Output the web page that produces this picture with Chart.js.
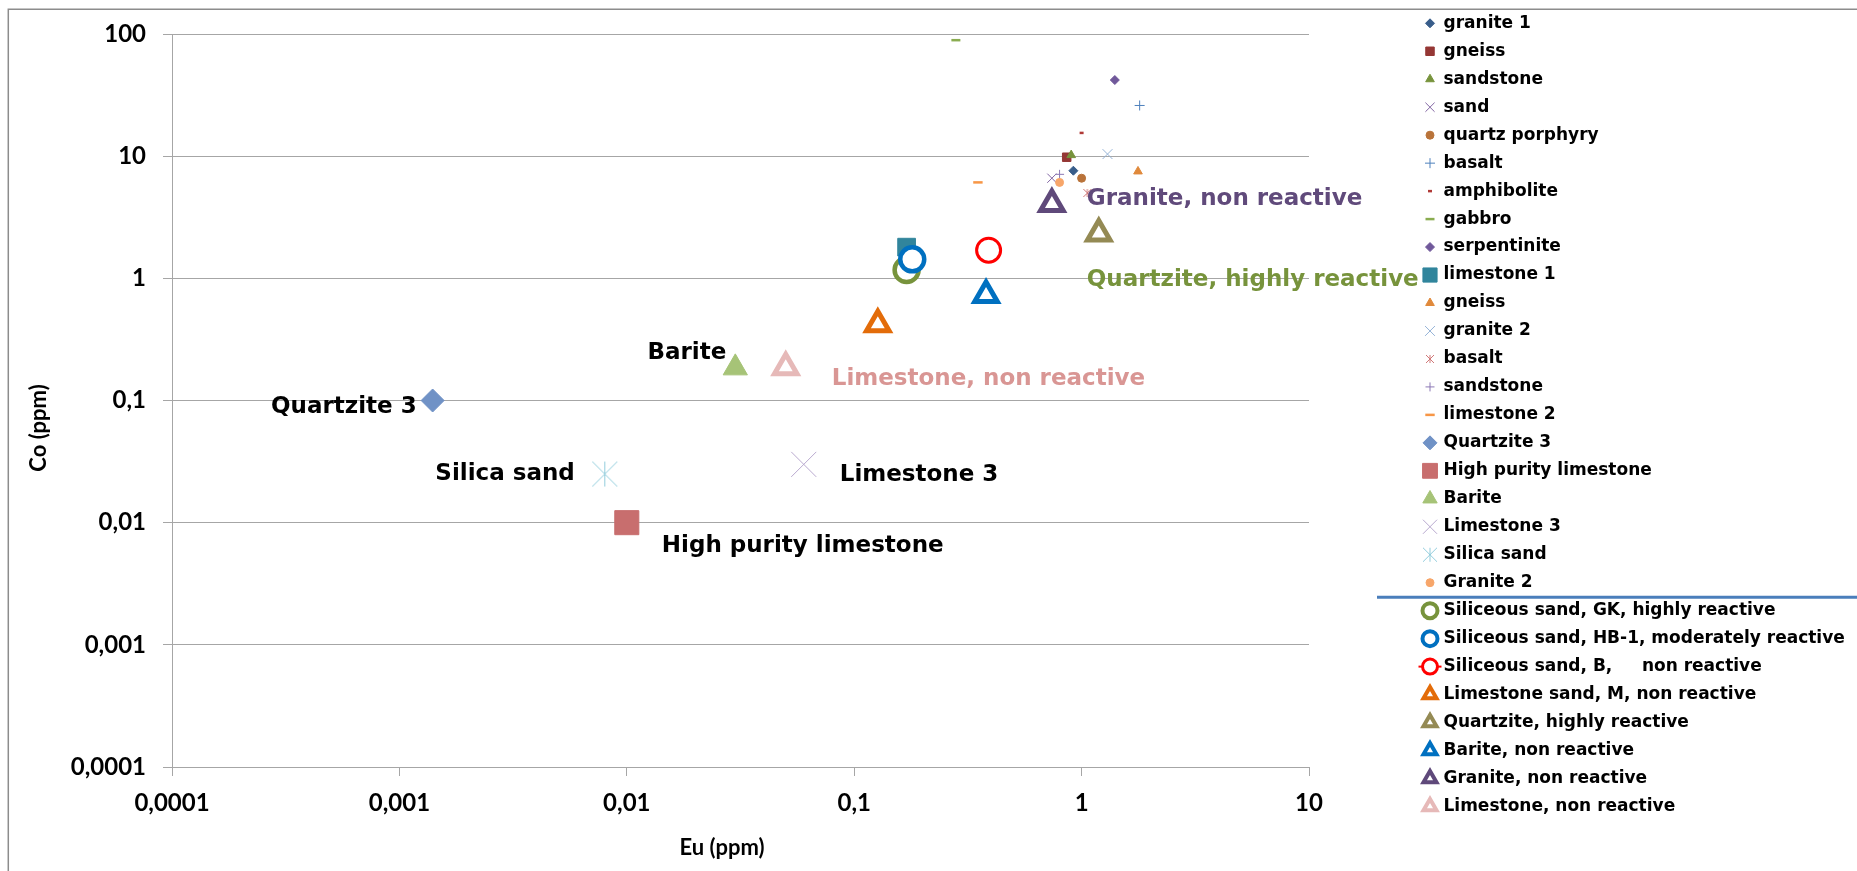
<!DOCTYPE html>
<html>
<head>
<meta charset="utf-8">
<script src="https://cdn.jsdelivr.net/npm/chart.js"></script>
<style>
  html, body { margin: 0; padding: 0; background: #ffffff; }
  canvas { display: block; }
</style>
</head>
<body>
<canvas id="chart" width="1857" height="871"></canvas>
<script>
// one point per series, Eu on x and Co on y (ppm)
const seriesNames = [
  "granite 1", "gneiss", "sandstone", "sand", "quartz porphyry", "basalt",
  "amphibolite", "gabbro", "serpentinite", "limestone 1", "gneiss",
  "granite 2", "basalt", "sandstone", "limestone 2",
  "Quartzite 3", "High purity limestone", "Barite", "Limestone 3", "Silica sand", "Granite 2",
  "Siliceous sand, GK, highly reactive",
  "Siliceous sand, HB-1, moderately reactive",
  "Siliceous sand, B,     non reactive",
  "Limestone sand, M, non reactive",
  "Quartzite, highly reactive",
  "Barite, non reactive",
  "Granite, non reactive",
  "Limestone, non reactive"
];
const euValues = [
  0.92, 0.86, 0.9, 0.74, 1.0, 1.8,
  1.0, 0.28, 1.4, 0.17, 1.77,
  1.3, 1.06, 0.8, 0.35,
  0.0014, 0.01, 0.03, 0.06, 0.008, 0.8,
  0.17, 0.18, 0.39, 0.127, 1.19, 0.38, 0.74, 0.05
];
const coValues = [
  7.6, 9.8, 10.2, 6.6, 6.6, 26,
  15.5, 89, 42, 1.8, 7.5,
  10.4, 5.0, 7.1, 6.1,
  0.1, 0.01, 0.185, 0.03, 0.025, 6.1,
  1.17, 1.43, 1.7, 0.42, 2.33, 0.73, 4.05, 0.187
];

const xTicks = [0.0001, 0.001, 0.01, 0.1, 1, 10];
const xTickLabels = ["0,0001", "0,001", "0,01", "0,1", "1", "10"];
const yTicks = [0.0001, 0.001, 0.01, 0.1, 1, 10, 100];
const yTickLabels = ["0,0001", "0,001", "0,01", "0,1", "1", "10", "100"];
const xTitle = "Eu (ppm)";
const yTitle = "Co (ppm)";

// labels written next to some points
const labelSeries = [15, 19, 16, 17, 18, 28, 27, 25];
const labelTexts = ["Quartzite 3", "Silica sand", "High purity limestone", "Barite",
  "Limestone 3", "Limestone, non reactive", "Granite, non reactive", "Quartzite, highly reactive"];

// ---- styles ----
const WHITE = "#ffffff";
const markers = [
  { style: "rectRot", r: 4.5, color: "#385d8a" },
  { style: "rect", r: 6, color: "#953735" },
  { style: "triangle", r: 5, color: "#77933c" },
  { style: "crossRot", r: 6.5, color: "#8064a2", bw: 1 },
  { style: "circle", r: 4, color: "#b9733a" },
  { style: "cross", r: 5, color: "#4f81bd", bw: 1 },
  { style: "line", r: 2, color: "#b03a37", bw: 2.5 },
  { style: "line", r: 4.5, color: "#8aac50", bw: 2.5 },
  { style: "rectRot", r: 4.5, color: "#70589a" },
  { style: "rect", r: 12.5, color: "#31859c", legendR: 10 },
  { style: "triangle", r: 5, color: "#e0893b" },
  { style: "crossRot", r: 7, color: "#95b3d7", bw: 1 },
  { style: "asterisk", r: 4, color: "#d07878", bw: 1 },
  { style: "cross", r: 4.5, color: "#8c79b5", bw: 1 },
  { style: "line", r: 4.7, color: "#f79646", bw: 2.5 },
  { style: "rectRot", r: 11.5, color: "#7092c6", legendR: 7 },
  { style: "rect", r: 17, color: "#c86e6e", legendR: 10.5 },
  { style: "triangle", r: 14, color: "#a6c377", legendR: 8.3 },
  { style: "crossRot", r: 17.7, color: "#b8a9cf", bw: 1, legendR: 10 },
  { style: "asterisk", r: 12.5, color: "#92cddc", bw: 1, legendR: 7 },
  { style: "circle", r: 4, color: "#f7a66a" },
  { style: "circle", r: 12, color: "#77933c", bw: 4.5, fill: WHITE, legendR: 7.5, legendBw: 4 },
  { style: "circle", r: 12, color: "#0070c0", bw: 4.5, fill: WHITE, legendR: 7.5, legendBw: 4 },
  { style: "circle", r: 12, color: "#ff0000", bw: 3, fill: WHITE, legendR: 7.5, legendBw: 3, legendLine: true },
  { style: "triangle", r: 13, color: "#e36c09", bw: 5, fill: WHITE, legendR: 7.5, legendBw: 4 },
  { style: "triangle", r: 13, color: "#948a54", bw: 5, fill: WHITE, legendR: 7.5, legendBw: 4 },
  { style: "triangle", r: 13, color: "#0070c0", bw: 5, fill: WHITE, legendR: 7.5, legendBw: 4 },
  { style: "triangle", r: 13, color: "#5f497a", bw: 5, fill: WHITE, legendR: 7.5, legendBw: 4 },
  { style: "triangle", r: 13, color: "#e6b9b8", bw: 5, fill: WHITE, legendR: 7.5, legendBw: 4 }
];

// where each label sits relative to its point (px)
const labelPlacement = [
  { dx: -16, dy: 7, align: "right", color: "#000000" },
  { dx: -30, dy: -0.5, align: "right", color: "#000000" },
  { dx: 35, dy: 23.5, align: "left", color: "#000000" },
  { dx: -9, dy: -14.5, align: "right", color: "#000000" },
  { dx: 36, dy: 11, align: "left", color: "#000000" },
  { dx: 46, dy: 12, align: "left", color: "#d99694" },
  { dx: 35, dy: -5, align: "left", color: "#604a7b" },
  { dx: -12, dy: 47, align: "left", color: "#77933c" }
];

const gridColor = "#a6a6a6";
const tickFont = { family: "Lato", weight: "bold", size: 24 };
const labelFont = "bold 23px 'DejaVu Sans'";
const legendFont = "bold 17px 'DejaVu Sans'";
const titleFont = "bold 22px Lato";
const legendTop = 23.3, legendRowH = 27.97, legendMarkerX = 1430, legendTextX = 1443.5;
const legendBreakAfter = 20;

// Excel style asterisk: vertical stroke plus an X
function asteriskCanvas(r, color, lw) {
  const size = Math.ceil(2 * r + 2);
  const c = document.createElement("canvas");
  c.width = size;
  c.height = size;
  const g = c.getContext("2d");
  const m = size / 2;
  g.strokeStyle = color;
  g.lineWidth = lw;
  g.beginPath();
  g.moveTo(m, m - r); g.lineTo(m, m + r);
  g.moveTo(m - r, m - r); g.lineTo(m + r, m + r);
  g.moveTo(m + r, m - r); g.lineTo(m - r, m + r);
  g.stroke();
  return c;
}

function pointStyleFor(m, r) {
  return m.style === "asterisk" ? asteriskCanvas(r, m.color, m.bw || 1) : m.style;
}

const datasets = seriesNames.map((name, i) => {
  const m = markers[i];
  return {
    label: name,
    data: [{ x: euValues[i], y: coValues[i] }],
    pointStyle: pointStyleFor(m, m.r),
    pointRadius: m.r,
    pointHoverRadius: m.r,
    pointBackgroundColor: m.fill || m.color,
    pointBorderColor: m.color,
    pointBorderWidth: m.bw || 1,
    order: seriesNames.length - i   // later series end up on top, as in the original
  };
});

const annotate = {
  id: "annotate",
  beforeDraw(chart) {
    const ctx = chart.ctx;
    ctx.save();
    ctx.strokeStyle = "#8c8c8c";
    ctx.lineWidth = 1.5;
    ctx.beginPath();
    ctx.moveTo(8.3, 871);
    ctx.lineTo(8.3, 9.3);
    ctx.lineTo(1857, 9.3);
    ctx.stroke();
    ctx.restore();
  },
  afterDatasetsDraw(chart) {
    const ctx = chart.ctx;
    ctx.save();
    ctx.font = labelFont;
    ctx.textBaseline = "middle";
    labelSeries.forEach((s, k) => {
      const pt = chart.getDatasetMeta(s).data[0];
      const p = labelPlacement[k];
      ctx.fillStyle = p.color;
      ctx.textAlign = p.align;
      ctx.fillText(labelTexts[k], pt.x + p.dx, pt.y + p.dy);
    });
    ctx.restore();
  },
  afterDraw(chart) {
    const ctx = chart.ctx;
    ctx.save();
    // axis titles
    ctx.fillStyle = "#000000";
    ctx.font = titleFont;
    ctx.textAlign = "center";
    ctx.textBaseline = "middle";
    ctx.fillText(xTitle, 722, 848);
    ctx.translate(39, 428);
    ctx.rotate(-Math.PI / 2);
    ctx.fillText(yTitle, 0, 0);
    ctx.restore();

    // legend
    const H = Chart.helpers;
    chart.data.datasets.forEach((ds, i) => {
      const m = markers[i];
      const y = legendTop + i * legendRowH;
      const lr = m.legendR || m.r;
      const lbw = m.legendBw || m.bw || 1;
      ctx.save();
      if (m.legendLine) {
        ctx.strokeStyle = m.color;
        ctx.lineWidth = 2;
        ctx.beginPath();
        ctx.moveTo(legendMarkerX - 11.5, y);
        ctx.lineTo(legendMarkerX + 11.5, y);
        ctx.stroke();
      }
      ctx.fillStyle = m.fill || m.color;
      ctx.strokeStyle = m.color;
      ctx.lineWidth = lbw;
      H.drawPoint(ctx, { pointStyle: pointStyleFor(m, lr), radius: lr, rotation: 0, borderWidth: lbw },
        legendMarkerX, y);
      ctx.fillStyle = "#000000";
      ctx.font = legendFont;
      ctx.textAlign = "left";
      ctx.textBaseline = "middle";
      ctx.fillText(ds.label, legendTextX, y);
      ctx.restore();
      if (i === legendBreakAfter) {
        ctx.save();
        ctx.strokeStyle = "#4a7ebb";
        ctx.lineWidth = 3;
        ctx.beginPath();
        ctx.moveTo(1377, y + legendRowH / 2 + 0.5);
        ctx.lineTo(1857, y + legendRowH / 2 + 0.5);
        ctx.stroke();
        ctx.restore();
      }
    });
  }
};

new Chart(document.getElementById("chart"), {
  type: "scatter",
  data: { datasets: datasets },
  plugins: [annotate],
  options: {
    responsive: false,
    animation: false,
    devicePixelRatio: 1,
    layout: { padding: { left: 0, top: 34, right: 548, bottom: 0 } },
    plugins: {
      legend: { display: false },
      tooltip: { enabled: false }
    },
    scales: {
      x: {
        type: "logarithmic",
        min: 0.0001,
        max: 10,
        afterBuildTicks: (s) => { s.ticks = xTicks.map(v => ({ value: v })); },
        afterFit: (s) => { s.height = 104; },
        ticks: {
          callback: (v, i) => xTickLabels[i],
          font: tickFont,
          color: "#000000",
          padding: 13,
          maxRotation: 0,
          autoSkip: false
        },
        grid: { drawOnChartArea: false, drawTicks: true, tickLength: 9, color: gridColor },
        border: { display: true, color: gridColor }
      },
      y: {
        type: "logarithmic",
        min: 0.0001,
        max: 100,
        afterBuildTicks: (s) => { s.ticks = yTicks.map(v => ({ value: v })); },
        afterFit: (s) => { s.width = 172; },
        ticks: {
          callback: (v, i) => yTickLabels[i],
          font: tickFont,
          color: "#000000",
          padding: 17,
          autoSkip: false
        },
        grid: { drawOnChartArea: true, drawTicks: true, tickLength: 9, color: gridColor },
        border: { display: true, color: gridColor }
      }
    }
  }
});
</script>
</body>
</html>
